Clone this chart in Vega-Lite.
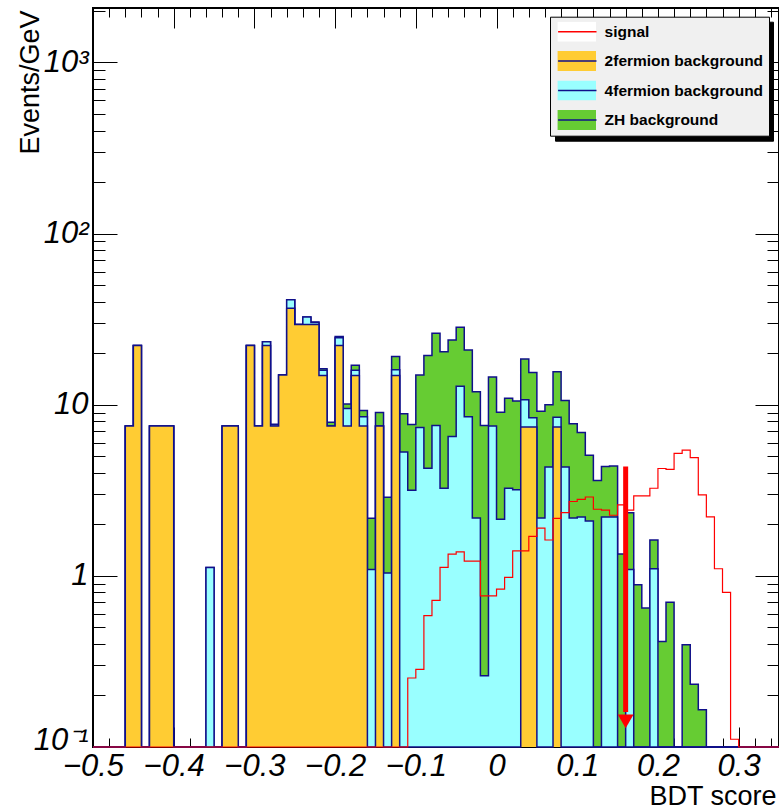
{
"$schema": "https://vega.github.io/schema/vega-lite/v6.json",
"width": 686, "height": 739,
"autosize": {"type": "none"},
"padding": {"left": 93, "top": 8, "right": 0, "bottom": 63},
"background": "white",
"config": {
  "view": {"stroke": "black", "strokeWidth": 2},
  "axis": {"grid": false, "domain": false, "tickColor": "black", "tickWidth": 1, "labelColor": "black", "titleColor": "black"}
},
"data": {"values": [
{"x":-0.5,"o":0,"c":0,"g":0,"s":0},
{"x":-0.49,"o":0,"c":0,"g":0,"s":0},
{"x":-0.48,"o":0,"c":0,"g":0,"s":0},
{"x":-0.47,"o":0,"c":0,"g":0,"s":0},
{"x":-0.46,"o":7.5,"c":7.5,"g":7.5,"s":0},
{"x":-0.45,"o":22.2,"c":22.2,"g":22.2,"s":0},
{"x":-0.44,"o":0,"c":0,"g":0,"s":0},
{"x":-0.43,"o":7.5,"c":7.5,"g":7.5,"s":0},
{"x":-0.42,"o":7.5,"c":7.5,"g":7.5,"s":0},
{"x":-0.41,"o":7.5,"c":7.5,"g":7.5,"s":0},
{"x":-0.4,"o":0,"c":0,"g":0,"s":0},
{"x":-0.39,"o":0,"c":0,"g":0,"s":0},
{"x":-0.38,"o":0,"c":0,"g":0,"s":0},
{"x":-0.37,"o":0,"c":0,"g":0,"s":0},
{"x":-0.36,"o":0,"c":1.12,"g":1.12,"s":0},
{"x":-0.35,"o":0,"c":0,"g":0,"s":0},
{"x":-0.34,"o":7.5,"c":7.5,"g":7.5,"s":0},
{"x":-0.33,"o":7.5,"c":7.5,"g":7.5,"s":0},
{"x":-0.32,"o":0,"c":0,"g":0,"s":0},
{"x":-0.31,"o":22.2,"c":22.2,"g":22.2,"s":0},
{"x":-0.3,"o":7.5,"c":7.5,"g":7.5,"s":0},
{"x":-0.29,"o":22.2,"c":23.3,"g":23.3,"s":0},
{"x":-0.28,"o":7.5,"c":7.65,"g":7.7,"s":0},
{"x":-0.27,"o":14.9,"c":14.9,"g":14.9,"s":0},
{"x":-0.26,"o":36.6,"c":41.1,"g":41.1,"s":0},
{"x":-0.25,"o":29.4,"c":29.4,"g":29.4,"s":0},
{"x":-0.24,"o":29.4,"c":32.6,"g":32.6,"s":0},
{"x":-0.23,"o":29.4,"c":30.2,"g":30.4,"s":0},
{"x":-0.22,"o":14.8,"c":15.9,"g":16.2,"s":0},
{"x":-0.21,"o":7.5,"c":7.5,"g":7.9,"s":0},
{"x":-0.2,"o":22.2,"c":24.6,"g":25.0,"s":0},
{"x":-0.19,"o":7.5,"c":9.5,"g":10.1,"s":0},
{"x":-0.18,"o":14.8,"c":15.9,"g":17.0,"s":0},
{"x":-0.17,"o":7.5,"c":8.5,"g":9.26,"s":0},
{"x":-0.16,"o":0,"c":1.09,"g":2.17,"s":0},
{"x":-0.15,"o":7.5,"c":7.5,"g":9.0,"s":0},
{"x":-0.14,"o":0,"c":1.04,"g":2.88,"s":0},
{"x":-0.13,"o":14.8,"c":16.0,"g":19.1,"s":0},
{"x":-0.12,"o":0,"c":5.29,"g":8.86,"s":0},
{"x":-0.11,"o":0,"c":3.16,"g":7.67,"s":0.253},
{"x":-0.1,"o":0,"c":7.35,"g":14.9,"s":0.284},
{"x":-0.09,"o":0,"c":4.25,"g":19.4,"s":0.585},
{"x":-0.08,"o":0,"c":7.57,"g":26.2,"s":0.719},
{"x":-0.07,"o":0,"c":3.25,"g":20.4,"s":1.12},
{"x":-0.06,"o":0,"c":6.51,"g":23.9,"s":1.34},
{"x":-0.05,"o":0,"c":12.8,"g":28.4,"s":1.38},
{"x":-0.04,"o":0,"c":8.5,"g":20.9,"s":1.22},
{"x":-0.03,"o":0,"c":2.18,"g":11.9,"s":1.22},
{"x":-0.02,"o":0,"c":0.261,"g":7.57,"s":0.764},
{"x":-0.01,"o":0,"c":7.5,"g":14.5,"s":0.764},
{"x":0,"o":0,"c":2.14,"g":9.05,"s":0.836},
{"x":0.01,"o":0,"c":3.25,"g":10.9,"s":0.98},
{"x":0.02,"o":0,"c":3.19,"g":10.5,"s":1.4},
{"x":0.03,"o":7.4,"c":10.7,"g":18.5,"s":1.4},
{"x":0.04,"o":7.4,"c":8.4,"g":15.4,"s":1.7},
{"x":0.05,"o":0,"c":2.18,"g":9.17,"s":1.9},
{"x":0.06,"o":0,"c":4.33,"g":10.0,"s":1.62},
{"x":0.07,"o":7.4,"c":8.45,"g":15.6,"s":2.17},
{"x":0.08,"o":0,"c":4.33,"g":10.6,"s":2.34},
{"x":0.09,"o":0,"c":2.18,"g":7.75,"s":2.72},
{"x":0.1,"o":0,"c":2.21,"g":6.87,"s":2.8},
{"x":0.11,"o":0,"c":2.09,"g":5.06,"s":2.89},
{"x":0.12,"o":0,"c":0,"g":3.61,"s":2.45},
{"x":0.13,"o":0,"c":2.21,"g":4.35,"s":2.42},
{"x":0.14,"o":0,"c":2.21,"g":4.39,"s":2.26},
{"x":0.15,"o":0,"c":0,"g":1.34,"s":2.6},
{"x":0.16,"o":0,"c":1.09,"g":2.34,"s":2.42},
{"x":0.17,"o":0,"c":0,"g":0.886,"s":2.93},
{"x":0.18,"o":0,"c":0,"g":0.648,"s":2.93},
{"x":0.19,"o":0,"c":1.1,"g":1.62,"s":3.25},
{"x":0.2,"o":0,"c":0,"g":0.414,"s":4.24},
{"x":0.21,"o":0,"c":0,"g":0.7,"s":4.19},
{"x":0.22,"o":0,"c":0,"g":0,"s":5.2},
{"x":0.23,"o":0,"c":0,"g":0.396,"s":5.43},
{"x":0.24,"o":0,"c":0,"g":0.233,"s":4.91},
{"x":0.25,"o":0,"c":0,"g":0.165,"s":2.97},
{"x":0.26,"o":0,"c":0,"g":0,"s":2.21},
{"x":0.27,"o":0,"c":0,"g":0,"s":1.1},
{"x":0.28,"o":0,"c":0,"g":0,"s":0.8},
{"x":0.29,"o":0,"c":0,"g":0,"s":0.111},
{"x":0.3,"o":0,"c":0,"g":0,"s":0},
{"x":0.31,"o":0,"c":0,"g":0,"s":0},
{"x":0.32,"o":0,"c":0,"g":0,"s":0},
{"x":0.33,"o":0,"c":0,"g":0,"s":0},
{"x":0.34,"o":0,"c":0,"g":0,"s":0},
{"x":0.35,"o":0,"c":0,"g":0,"s":0}
]},
"resolve": {"axis": {"x": "independent", "y": "independent"}},
"layer": [
{
  "mark": {"type": "area", "interpolate": "step-after", "opacity": 1},
  "encoding": {
    "x": {"field": "x", "type": "quantitative",
      "scale": {"domain": [-0.5, 0.35], "nice": false, "zero": false},
      "axis": {"orient": "bottom",
        "values": [-0.5,-0.48,-0.46,-0.44,-0.42,-0.4,-0.38,-0.36,-0.34,-0.32,-0.3,-0.28,-0.26,-0.24,-0.22,-0.2,-0.18,-0.16,-0.14,-0.12,-0.1,-0.08,-0.06,-0.04,-0.02,0,0.02,0.04,0.06,0.08,0.1,0.12,0.14,0.16,0.18,0.2,0.22,0.24,0.26,0.28,0.3,0.32,0.34],
        "tickSize": {"condition": {"test": "abs(datum.value*10-round(datum.value*10))<1e-6", "value": -20}, "value": -9},
        "labelExpr": "abs(datum.value*10-round(datum.value*10))<1e-6 ? (abs(datum.value)<1e-9 ? '0' : (datum.value<0 ? '−' : '') + format(abs(datum.value), '.1f')) : ''",
        "labelFont": "Liberation Sans", "labelFontStyle": "italic", "labelFontSize": 31,
        "labelPadding": 24, "labelBaseline": "top", "labelAlign": "center",
        "labelOverlap": false, "labelFlush": false,
        "title": "BDT score", "titleFont": "Liberation Sans", "titleFontSize": 27, "titleFontWeight": "normal",
        "titleAlign": "right", "titleBaseline": "alphabetic", "titleX": 683, "titleY": 57, "titleAngle": 0}},
    "y": {"field": "g", "type": "quantitative",
      "scale": {"type": "log", "domain": [0.1, 2080], "nice": false, "clamp": true},
      "axis": {"orient": "left",
        "values": [0.1,0.2,0.3,0.4,0.5,0.6,0.7,0.8,0.9,1,2,3,4,5,6,7,8,9,10,20,30,40,50,60,70,80,90,100,200,300,400,500,600,700,800,900,1000,2000],
        "tickSize": {"condition": {"test": "abs(log(datum.value)/LN10-round(log(datum.value)/LN10))<1e-6", "value": -24}, "value": -12},
        "labelExpr": "datum.value==1000 ? '10³' : datum.value==100 ? '10²' : datum.value==10 ? '10' : datum.value==1 ? '1' : datum.value==0.1 ? '10⁻¹' : ''",
        "labelOffset": {"condition": {"test": "datum.value < 0.15", "value": -7}, "value": 0},
        "labelFont": "Liberation Sans", "labelFontStyle": "italic", "labelFontSize": 31,
        "labelPadding": 29, "labelAlign": "right", "labelBaseline": "middle",
        "labelOverlap": false, "labelFlush": false,
        "title": "Events/GeV", "titleFont": "Liberation Sans", "titleFontSize": 27, "titleFontWeight": "normal",
        "titleAngle": -90, "titleAlign": "right", "titleBaseline": "alphabetic", "titleX": -55, "titleY": 2}},
    "y2": {"datum": 0.1},
    "fill": {"datum": "ZH background", "type": "nominal",
      "scale": {"domain": ["signal", "2fermion background", "4fermion background", "ZH background"],
                "range": ["#ffffff", "#ffcc33", "#99ffff", "#66cc33"]},
      "legend": {"orient": "none", "legendX": 457, "legendY": 8.7, "title": null, "zindex": 1,
        "symbolType": "M-1,-0.52H1V0.52H-1Z", "symbolSize": 1475, "symbolStrokeWidth": 0, "symbolOpacity": 1,
        "padding": 5, "symbolOffset": 2.3, "clipHeight": 20, "rowPadding": 9.4, "labelOffset": 8.3,
        "labelFont": "Liberation Sans", "labelFontWeight": "bold", "labelFontSize": 15.5, "labelColor": "black", "labelLimit": 400,
        "fillColor": "#f0f0f0", "strokeColor": "black"}}
  }
},
{
  "mark": {"type": "line", "interpolate": "step-after", "strokeWidth": 1.5},
  "encoding": {
    "x": {"field": "x", "type": "quantitative",
      "axis": {"orient": "top",
        "values": [-0.5,-0.48,-0.46,-0.44,-0.42,-0.4,-0.38,-0.36,-0.34,-0.32,-0.3,-0.28,-0.26,-0.24,-0.22,-0.2,-0.18,-0.16,-0.14,-0.12,-0.1,-0.08,-0.06,-0.04,-0.02,0,0.02,0.04,0.06,0.08,0.1,0.12,0.14,0.16,0.18,0.2,0.22,0.24,0.26,0.28,0.3,0.32,0.34],
        "tickSize": {"condition": {"test": "abs(datum.value*10-round(datum.value*10))<1e-6", "value": -20}, "value": -9},
        "labels": false, "title": null}},
    "y": {"field": "g", "type": "quantitative",
      "axis": {"orient": "right",
        "values": [0.1,0.2,0.3,0.4,0.5,0.6,0.7,0.8,0.9,1,2,3,4,5,6,7,8,9,10,20,30,40,50,60,70,80,90,100,200,300,400,500,600,700,800,900,1000,2000],
        "tickSize": {"condition": {"test": "abs(log(datum.value)/LN10-round(log(datum.value)/LN10))<1e-6", "value": -24}, "value": -12},
        "labels": false, "title": null}},
    "stroke": {"datum": "ZH line", "type": "nominal",
      "scale": {"domain": ["signal line", "2fermion line", "4fermion line", "ZH line"],
                "range": ["#ff0000", "#10108a", "#10108a", "#10108a"]},
      "legend": {"orient": "none", "legendX": 457, "legendY": 8.7, "title": null, "zindex": 2,
        "symbolType": "stroke", "symbolSize": 1475, "symbolStrokeWidth": 1.5,
        "padding": 5, "symbolOffset": 2.3, "clipHeight": 20, "rowPadding": 9.4, "labelOffset": 8.3,
        "labelExpr": "''", "labelFont": "Liberation Sans", "labelFontWeight": "bold", "labelFontSize": 15.5}}
  }
},
{
  "mark": {"type": "area", "interpolate": "step-after", "opacity": 1},
  "encoding": {
    "x": {"field": "x", "type": "quantitative", "axis": null},
    "y": {"field": "c", "type": "quantitative", "axis": null},
    "y2": {"datum": 0.1},
    "fill": {"datum": "4fermion background", "type": "nominal"}
  }
},
{
  "mark": {"type": "line", "interpolate": "step-after", "strokeWidth": 1.5},
  "encoding": {
    "x": {"field": "x", "type": "quantitative", "axis": null},
    "y": {"field": "c", "type": "quantitative", "axis": null},
    "stroke": {"datum": "4fermion line", "type": "nominal"}
  }
},
{
  "mark": {"type": "area", "interpolate": "step-after", "opacity": 1},
  "encoding": {
    "x": {"field": "x", "type": "quantitative", "axis": null},
    "y": {"field": "o", "type": "quantitative", "axis": null},
    "y2": {"datum": 0.1},
    "fill": {"datum": "2fermion background", "type": "nominal"}
  }
},
{
  "mark": {"type": "line", "interpolate": "step-after", "strokeWidth": 1.5},
  "encoding": {
    "x": {"field": "x", "type": "quantitative", "axis": null},
    "y": {"field": "o", "type": "quantitative", "axis": null},
    "stroke": {"datum": "2fermion line", "type": "nominal"}
  }
},
{
  "mark": {"type": "line", "interpolate": "step-after", "strokeWidth": 1.2},
  "encoding": {
    "x": {"field": "x", "type": "quantitative", "axis": null},
    "y": {"field": "s", "type": "quantitative", "axis": null},
    "stroke": {"datum": "signal line", "type": "nominal"}
  }
},
{
  "data": {"values": [{"x": 0.16, "top": 4.36, "bottom": 0.16, "head": 0.141}]},
  "mark": {"type": "rule", "strokeWidth": 5, "opacity": 1},
  "encoding": {
    "x": {"field": "x", "type": "quantitative", "axis": null},
    "y": {"field": "top", "type": "quantitative", "axis": null},
    "y2": {"field": "bottom"},
    "color": {"datum": "s1", "type": "nominal",
      "scale": {"domain": ["s1", "s2", "s3", "s4"], "range": ["#ff0000", "#ff0000", "#ff0000", "#ff0000"]},
      "legend": {"orient": "none", "legendX": 462, "legendY": 13.7, "title": null, "zindex": 0,
        "symbolType": "M-1,-0.52H1V0.52H-1Z", "symbolSize": 1475, "symbolOpacity": 0, "symbolStrokeWidth": 0,
        "padding": 5, "symbolOffset": 2.3, "clipHeight": 20, "rowPadding": 9.4, "labelOffset": 166,
        "labelExpr": "''", "labelFont": "Liberation Sans", "labelFontWeight": "bold", "labelFontSize": 15.5,
        "fillColor": "#000000", "strokeColor": "#000000"}}
  }
},
{
  "data": {"values": [{"x": 0.16, "top": 4.36, "bottom": 0.16, "head": 0.141}]},
  "mark": {"type": "point", "shape": "triangle-down", "filled": true, "color": "#ff0000", "size": 250, "opacity": 1, "strokeWidth": 0},
  "encoding": {
    "x": {"field": "x", "type": "quantitative", "axis": null},
    "y": {"field": "head", "type": "quantitative", "axis": null}
  }
}
]
}
